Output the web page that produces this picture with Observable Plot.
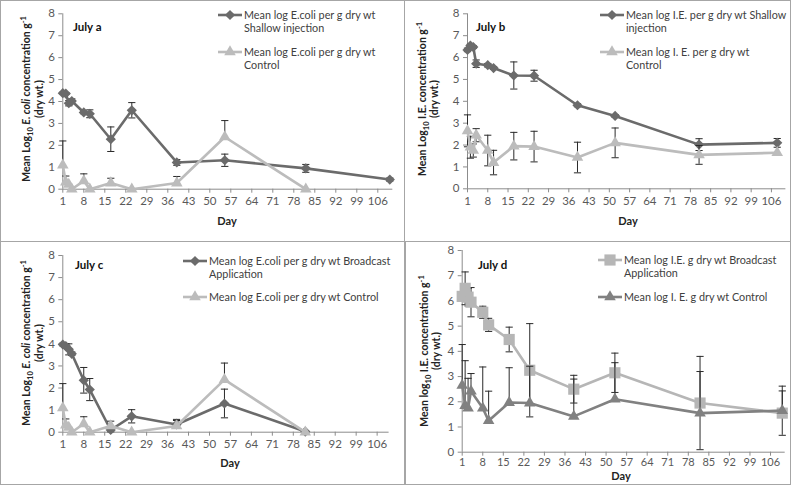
<!DOCTYPE html>
<html><head><meta charset="utf-8">
<script src="https://cdn.jsdelivr.net/npm/d3@7"></script>
<script src="https://cdn.jsdelivr.net/npm/@observablehq/plot@0.6"></script>
<style>
body{margin:0;background:#fff;font-family:Lato,"Open Sans",sans-serif;}
#root{position:relative;width:791px;height:485px;overflow:hidden;}
.panel{position:absolute;}
.panel svg{position:absolute;left:0;top:0;overflow:visible;}
.border{position:absolute;box-sizing:border-box;border:1px solid #a6a6a6;pointer-events:none;}
</style></head><body><div id="root"></div>
<script>
// ---------------- data ----------------
const xTicks = [1,8,15,22,29,36,43,50,57,64,71,78,85,92,99,106];
const yTicks = [0,1,2,3,4,5,6,7,8];

// July a : E. coli, shallow injection vs control
const daysA = [1,2,3,4,8,10,17,24,39,55,82,110];
const shallowEcoli = [4.38,4.36,3.92,4.02,3.50,3.44,2.28,3.60,1.22,1.32,0.95,0.44];
const shallowEcoliErr = [0.04,0.04,0.12,0.10,0.06,0.18,0.56,0.35,0.13,0.28,0.18,0.07];
const controlDaysA = [1,2,3,4,8,10,17,24,39,55,82];
const controlEcoli = [1.10,0.32,0.22,0.00,0.38,0.00,0.28,0.00,0.28,2.38,0.00];
const controlEcoliErr = [1.10,0.28,0.00,0.00,0.32,0.00,0.22,0.00,0.30,0.75,0.00];

// July b : I.E., shallow injection vs control
const daysB = [1,2,3,4,8,10,17,24,39,52,81,108];
const shallowIE = [6.35,6.55,6.48,5.72,5.65,5.52,5.18,5.17,3.82,3.33,2.02,2.10];
const shallowIEErr = [0.08,0.06,0.06,0.17,0.08,0.06,0.62,0.25,0.07,0.06,0.27,0.20];
const controlIE = [2.65,1.90,1.75,2.45,1.75,1.20,1.95,1.93,1.43,2.10,1.55,1.65];
const controlIEErr = [0.73,0.50,0.30,0.30,0.70,0.56,0.63,0.70,0.70,0.68,0.43,0.00];

// July c : E. coli, broadcast application vs control
const daysC = [1,2,3,4,8,10,17,24,39,55,82];
const broadcastEcoli = [3.97,3.90,3.75,3.55,2.35,1.93,0.10,0.72,0.35,1.30,0.03];
const broadcastEcoliErr = [0.06,0.10,0.25,0.08,0.58,0.50,0.08,0.30,0.18,0.65,0.04];

// July d : I.E., broadcast application vs control
const daysD = [1,2,3,4,8,10,17,24,39,53,82,110];
const broadcastIE = [6.18,6.50,6.15,5.95,5.55,5.05,4.47,3.25,2.50,3.15,1.95,1.55];
const broadcastIEErr = [0.05,0.65,0.35,0.58,0.24,0.26,0.49,1.85,0.55,0.78,1.85,0.88];
const controlIED = [2.65,1.85,1.75,2.42,1.75,1.25,1.97,1.95,1.42,2.10,1.55,1.65];
const controlIEDErr = [1.62,1.78,1.18,0.70,1.63,1.17,1.38,1.46,1.48,1.45,1.65,0.97];

// ---------------- styling ----------------
const axisColor = "#8c8c8c", tickText = "#595959", errColor = "#2a2a2a", legendText = "#404040";
const darkGray = "#6b6b6b", lightGray = "#bcbcbc", midGray = "#818181", sqGray = "#b6b6b6";
const cap = {draw(ctx, size){ const r = Math.sqrt(size/Math.PI); ctx.moveTo(-r,0); ctx.lineTo(r,0); }};

const panels = [
  {left:0, top:0, width:404, height:241, mt:13.3, mb:52.3, ml:62.3, mr:11.7, xmax:111, pad:4,
   title:"July a", titleXY:[73,27], dayXY:[227,221], ytitle:[26,39,99], yText:"ecoli",
   legend:{x:218, y:[15,52], lines:[["Mean log E.coli per g dry wt","Shallow injection"],["Mean log E.coli per g dry wt","Control"]]},
   series:[
    {days:daysA, vals:shallowEcoli, errs:shallowEcoliErr, color:darkGray, symbol:"diamond2", r:4.6, both:true},
    {days:controlDaysA, vals:controlEcoli, errs:controlEcoliErr, color:lightGray, symbol:"triangle", r:4.3, both:false}]},
  {left:404, top:0, width:387, height:241, mt:13.3, mb:52.7, ml:63, mr:5.6, xmax:111, pad:4,
   title:"July b", titleXY:[72,27], dayXY:[224,221], ytitle:[18,30,99], yText:"ie",
   legend:{x:196, y:[15,52], lines:[["Mean log I.E. per g dry wt Shallow","injection"],["Mean log I. E. per g dry wt","Control"]]},
   series:[
    {days:daysB, vals:shallowIE, errs:shallowIEErr, color:darkGray, symbol:"diamond2", r:4.6, both:true},
    {days:daysB, vals:controlIE, errs:controlIEErr, color:lightGray, symbol:"triangle", r:4.3, both:true}]},
  {left:0, top:241, width:404, height:244, mt:14, mb:53.3, ml:62.3, mr:15.4, xmax:110, pad:4,
   title:"July c", titleXY:[75,24], dayXY:[230,222], ytitle:[26,39,102], yText:"ecoli",
   legend:{x:183, y:[20,56], lines:[["Mean log E.coli per g dry wt Broadcast","Application"],["Mean log E.coli per g dry wt Control"]]},
   series:[
    {days:daysC, vals:broadcastEcoli, errs:broadcastEcoliErr, color:darkGray, symbol:"diamond2", r:4.6, both:true},
    {days:controlDaysA, vals:controlEcoli, errs:controlEcoliErr, color:lightGray, symbol:"triangle", r:4.3, both:false}]},
  {left:404, top:241, width:387, height:244, mt:9, mb:33.3, ml:57.7, mr:6.3, xmax:111, pad:1.5,
   title:"July d", titleXY:[74,24], dayXY:[217,235.5], ytitle:[20,32,110], yText:"ie2",
   legend:{x:194, y:[19,56], lines:[["Mean log I.E. g dry wt Broadcast","Application"],["Mean log I. E. g dry wt Control"]]},
   series:[
    {days:daysD, vals:broadcastIE, errs:broadcastIEErr, color:sqGray, symbol:"square", r:6.3, both:true},
    {days:daysD, vals:controlIED, errs:controlIEDErr, color:midGray, symbol:"triangle", r:4.3, both:false}]}
];

const root = document.getElementById("root");
const FONT = "Lato, 'Open Sans', sans-serif";

function makePanel(p){
  const marks = [
    Plot.ruleY([0], {stroke: axisColor, strokeWidth: 1}),
    Plot.ruleX([1], {y1: 0, y2: 8, stroke: axisColor, strokeWidth: 1}),
    Plot.axisY({ticks: yTicks, tickSize: 4, tickPadding: 4, stroke: axisColor, fill: tickText, fontSize: 11.5, label: null, tickFormat: d => String(d)}),
    Plot.axisX({ticks: xTicks, tickSize: 4, tickPadding: p.pad, stroke: axisColor, fill: tickText, fontSize: p.pad < 4 ? 11 : 11.5, label: null, tickFormat: d => String(d)})
  ];
  for (const s of p.series){
    const rows = s.days.map((d,i) => ({day: d, v: s.vals[i], e: s.errs[i]}));
    const errRows = rows.filter(r => r.e > 0);
    const lo = r => s.both ? Math.max(0, r.v - r.e) : r.v;
    const hi = r => r.v + r.e;
    marks.push(Plot.ruleX(errRows, {x: "day", y1: lo, y2: hi, stroke: errColor, strokeWidth: 1}));
    marks.push(Plot.dot(errRows, {x: "day", y: hi, symbol: cap, r: 3.6, fill: "none", stroke: errColor, strokeWidth: 1}));
    if (s.both) marks.push(Plot.dot(errRows.filter(r => r.v - r.e > 0), {x: "day", y: lo, symbol: cap, r: 3.6, fill: "none", stroke: errColor, strokeWidth: 1}));
    marks.push(Plot.line(rows, {x: "day", y: "v", stroke: s.color, strokeWidth: 2.6}));
    marks.push(Plot.dot(rows, {x: "day", y: "v", symbol: s.symbol, r: s.r, fill: s.color, stroke: "none"}));
  }
  const svgEl = Plot.plot({
    width: p.width, height: p.height,
    marginTop: p.mt, marginBottom: p.mb, marginLeft: p.ml, marginRight: p.mr,
    x: {domain: [1, p.xmax]},
    y: {domain: [0, 8]},
    style: {fontFamily: FONT, background: "transparent", overflow: "visible"},
    marks
  });
  const div = document.createElement("div");
  div.className = "panel";
  div.style.left = p.left + "px"; div.style.top = p.top + "px";
  div.style.width = p.width + "px"; div.style.height = p.height + "px";
  div.appendChild(svgEl);
  root.appendChild(div);

  const svg = d3.select(svgEl);
  const g = svg.append("g").attr("font-family", FONT).attr("text-anchor", "start");
  // panel title
  g.append("text").attr("x", p.titleXY[0]).attr("y", p.titleXY[1]).attr("dy", "0.35em")
    .attr("text-anchor", "start").attr("font-weight", "bold").attr("font-size", 11.5).attr("fill", "#111").text(p.title);
  // x label
  g.append("text").attr("x", p.dayXY[0]).attr("y", p.dayXY[1]).attr("dy", "0.35em")
    .attr("text-anchor", "middle").attr("font-weight", "bold").attr("font-size", 11).attr("fill", "#222").text("Day");
  // y title
  const [x1, x2, cy] = p.ytitle;
  const t = g.append("text").attr("transform", `translate(${x1 + 3.8},${cy}) rotate(-90)`)
    .attr("text-anchor", "middle").attr("font-weight", "bold").attr("font-size", 10.5).attr("fill", "#222");
  t.append("tspan").text(p.yText === "ie2" ? "Mean log" : "Mean Log");
  t.append("tspan").attr("font-size", 7.5).attr("dy", 3).text("10");
  if (p.yText === "ecoli"){
    t.append("tspan").attr("dy", -3).text(" ");
    t.append("tspan").attr("font-style", "italic").text("E. coli");
    t.append("tspan").text(" concentration g");
  } else {
    t.append("tspan").attr("dy", -3).text(" I.E. concentration g");
  }
  t.append("tspan").attr("font-size", 7.5).attr("dy", -4).text("-1");
  g.append("text").attr("transform", `translate(${x2 + 3.8},${cy}) rotate(-90)`)
    .attr("text-anchor", "middle").attr("font-weight", "bold").attr("font-size", 10.5).attr("fill", "#222").text("(dry wt.)");
  // legend
  const symMap = {diamond2: d3.symbolDiamond2, triangle: d3.symbolTriangle, square: d3.symbolSquare};
  p.series.forEach((s, i) => {
    const ly = p.legend.y[i], lx = p.legend.x;
    g.append("line").attr("x1", lx).attr("x2", lx + 24).attr("y1", ly).attr("y2", ly)
      .attr("stroke", s.color).attr("stroke-width", 2.6);
    g.append("path").attr("transform", `translate(${lx + 12},${ly})`)
      .attr("d", d3.symbol(symMap[s.symbol], s.r * s.r * Math.PI)()).attr("fill", s.color);
    p.legend.lines[i].forEach((line, j) => {
      g.append("text").attr("x", lx + 26).attr("y", ly + j * 13.3).attr("dy", "0.35em")
        .attr("text-anchor", "start").attr("font-size", 10.8).attr("fill", legendText).text(line);
    });
  });
}
panels.forEach(makePanel);

// panel frames
[[0,0,405,242],[404,0,387,242],[0,241,405,244],[404,241,387,244]].forEach(([l,t,w,h], i) => {
  const b = document.createElement("div");
  b.className = "border";
  b.style.left = l + "px"; b.style.top = t + "px"; b.style.width = w + "px"; b.style.height = h + "px";
  if (i === 3) b.style.borderLeftWidth = "2px";
  root.appendChild(b);
});
</script></body></html>
